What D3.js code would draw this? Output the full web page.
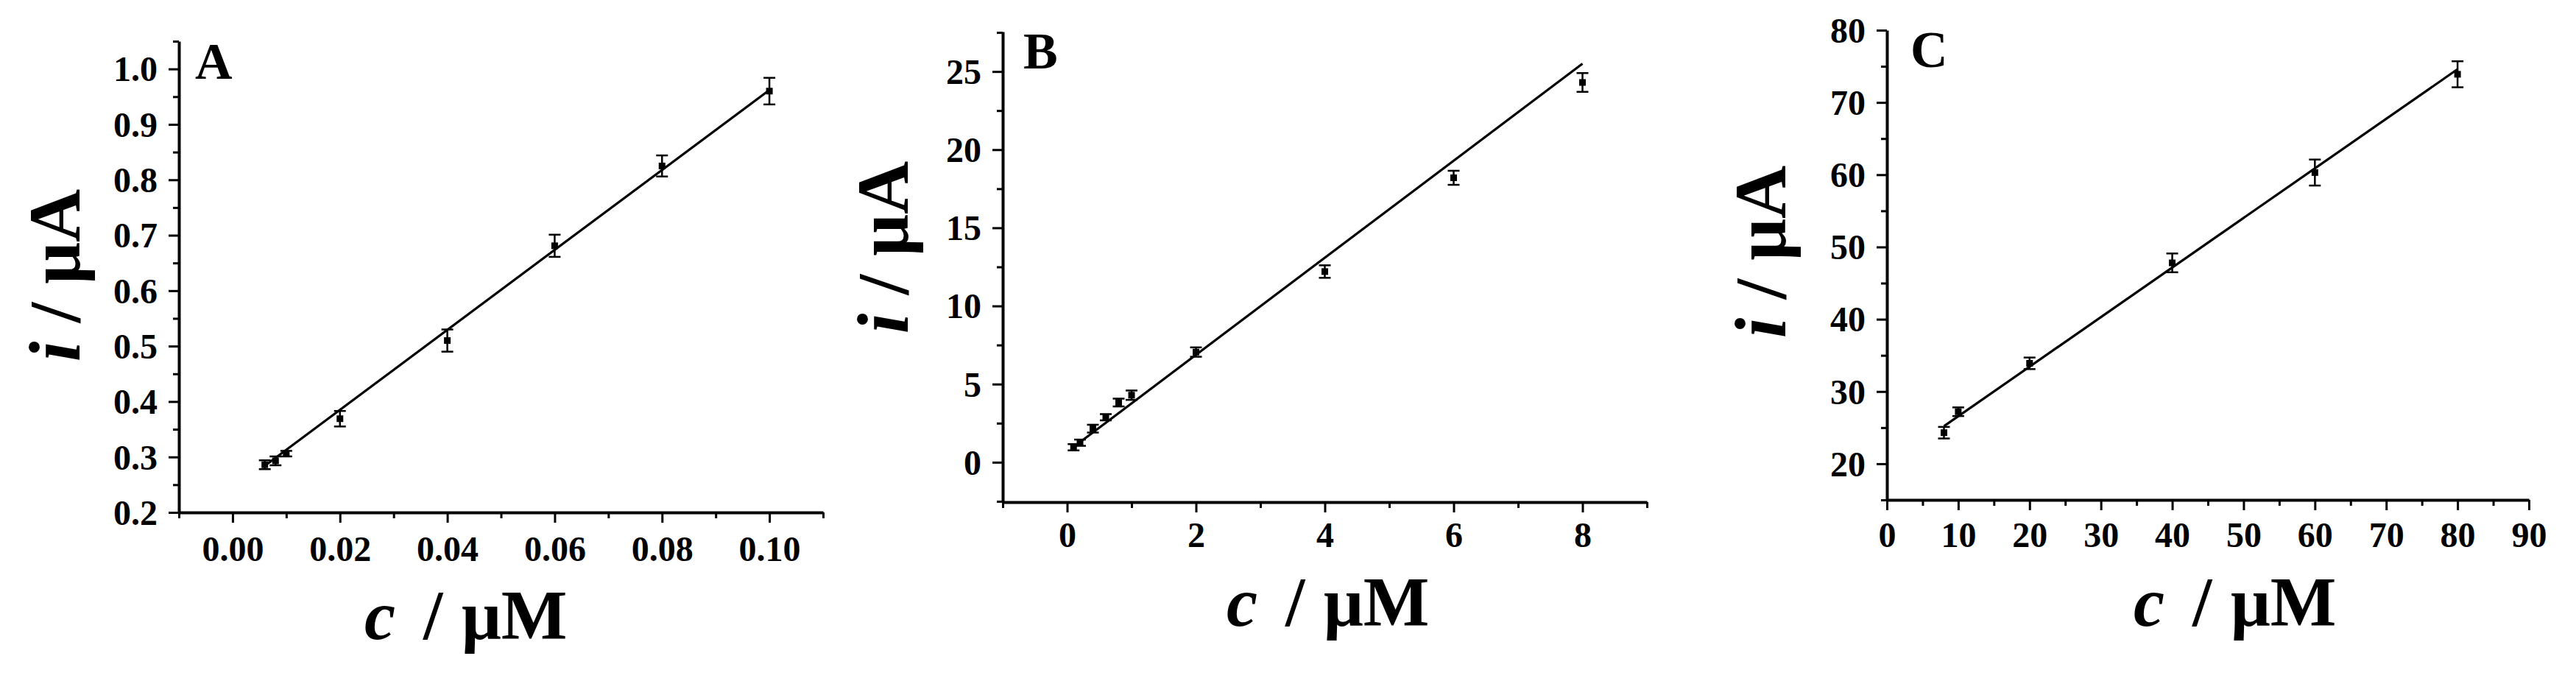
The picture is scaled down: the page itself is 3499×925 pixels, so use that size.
<!DOCTYPE html>
<html>
<head>
<meta charset="utf-8">
<script src="https://cdn.jsdelivr.net/npm/d3@7"></script>
<style>
  body { margin: 0; background: #fff; }
  svg text { font-family: "Liberation Serif", "Times New Roman", serif; font-weight: bold; fill: #000; }
</style>
</head>
<body>
<div id="chart"></div>
<script>
// panel A data (c in uM, i in uA)
const concA = [0.006, 0.008, 0.01, 0.02, 0.04, 0.06, 0.08, 0.10];
const currA = [0.286, 0.293, 0.306, 0.369, 0.51, 0.681, 0.825, 0.96];
const errA = [0.008, 0.008, 0.005, 0.014, 0.02, 0.02, 0.019, 0.024];
const fitA = [[0.006, 0.284], [0.10, 0.962]];

// panel B data
const concB = [0.1, 0.2, 0.4, 0.6, 0.8, 1, 2, 4, 6, 8];
const currB = [0.96, 1.25, 2.15, 2.88, 3.82, 4.29, 7.05, 12.2, 18.2, 24.3];
const errB = [0.2, 0.2, 0.25, 0.2, 0.25, 0.3, 0.3, 0.4, 0.45, 0.6];
const fitB = [[0.06, 0.85], [8.0, 25.5]];

// panel C data
const concC = [8, 10, 20, 40, 60, 80];
const currC = [24.3, 27.2, 33.9, 47.8, 60.3, 73.9];
const errC = [0.8, 0.6, 0.8, 1.3, 1.8, 1.8];
const fitC = [[8, 25.2], [80, 74.6]];

// ticks
const xTicksA = [0, 0.02, 0.04, 0.06, 0.08, 0.10];
const xMinorA = [-0.01, 0.01, 0.03, 0.05, 0.07, 0.09, 0.11];
const yTicksA = [0.2, 0.3, 0.4, 0.5, 0.6, 0.7, 0.8, 0.9, 1.0];
const yMinorA = [0.25, 0.35, 0.45, 0.55, 0.65, 0.75, 0.85, 0.95, 1.05];

const xTicksB = [0, 2, 4, 6, 8];
const xMinorB = [-1, 1, 3, 5, 7, 9];
const yTicksB = [0, 5, 10, 15, 20, 25];
const yMinorB = [-2.5, 2.5, 7.5, 12.5, 17.5, 22.5, 27.5];

const xTicksC = [0, 10, 20, 30, 40, 50, 60, 70, 80, 90];
const xMinorC = [5, 15, 25, 35, 45, 55, 65, 75, 85];
const yTicksC = [20, 30, 40, 50, 60, 70, 80];
const yMinorC = [15, 25, 35, 45, 55, 65, 75];

const svg = d3.select("#chart").append("svg")
  .attr("width", 3499)
  .attr("height", 925);

// one panel = one set of axes; layout numbers live here, not in the data
const panels = [
  { letter: "A", c: concA, i: currA, err: errA, fit: fitA,
    xDom: [-0.01, 0.11], yDom: [0.2, 1.05], left: 243, right: 1118, top: 56, bottom: 696,
    xt: xTicksA, xm: xMinorA, yt: yTicksA, ym: yMinorA, xf: d3.format(".2f"), yf: d3.format(".1f"),
    xLabelX: 495, xLabelY: 868, yLabelX: 108, yLabelY: 374, tickLabelY: 762, letterX: 265, letterY: 107 },
  { letter: "B", c: concB, i: currB, err: errB, fit: fitB,
    xDom: [-1, 9], yDom: [-2.55, 27.55], left: 1362, right: 2237, top: 43, bottom: 682,
    xt: xTicksB, xm: xMinorB, yt: yTicksB, ym: yMinorB, xf: d3.format("d"), yf: d3.format("d"),
    xLabelX: 1666, xLabelY: 850, yLabelX: 1233, yLabelY: 336, tickLabelY: 743, letterX: 1390, letterY: 93 },
  { letter: "C", c: concC, i: currC, err: errC, fit: fitC,
    xDom: [0, 90], yDom: [15, 80], left: 2563, right: 3435, top: 41, bottom: 679,
    xt: xTicksC, xm: xMinorC, yt: yTicksC, ym: yMinorC, xf: d3.format("d"), yf: d3.format("d"),
    xLabelX: 2898, xLabelY: 850, yLabelX: 2425, yLabelY: 342, tickLabelY: 743, letterX: 2595, letterY: 91 }
];

panels.forEach(p => {
  const x = d3.scaleLinear().domain(p.xDom).range([p.left, p.right]);
  const y = d3.scaleLinear().domain(p.yDom).range([p.bottom, p.top]);
  const g = svg.append("g");

  // minor ticks first, then major axis on top
  g.append("g")
    .attr("transform", "translate(0," + p.bottom + ")")
    .call(d3.axisBottom(x).tickValues(p.xm).tickSize(8).tickFormat(""))
    .call(a => a.select(".domain").remove());
  g.append("g")
    .attr("transform", "translate(" + p.left + ",0)")
    .call(d3.axisLeft(y).tickValues(p.ym).tickSize(8).tickFormat(""))
    .call(a => a.select(".domain").remove());

  const xAx = g.append("g")
    .attr("transform", "translate(0," + p.bottom + ")")
    .call(d3.axisBottom(x).tickValues(p.xt).tickSize(14).tickSizeOuter(0).tickFormat(p.xf));
  xAx.selectAll("text")
    .attr("y", p.tickLabelY - p.bottom)
    .attr("dy", null)
    .style("font-size", "48px");

  const yAx = g.append("g")
    .attr("transform", "translate(" + p.left + ",0)")
    .call(d3.axisLeft(y).tickValues(p.yt).tickSize(14).tickSizeOuter(0).tickFormat(p.yf));
  yAx.selectAll("text")
    .attr("x", -29)
    .attr("dy", "0.34em")
    .style("font-size", "48px");

  g.selectAll(".domain").attr("stroke", "#000").attr("stroke-width", 4);
  g.selectAll(".tick line").attr("stroke", "#000").attr("stroke-width", 3);

  // fit line
  g.append("line")
    .attr("x1", x(p.fit[0][0])).attr("y1", y(p.fit[0][1]))
    .attr("x2", x(p.fit[1][0])).attr("y2", y(p.fit[1][1]))
    .attr("stroke", "#000").attr("stroke-width", 3.2);

  const pts = p.c.map((c, k) => ({ c: c, i: p.i[k], e: p.err[k] }));

  // error bars
  const eb = g.selectAll(".eb").data(pts).enter().append("g").attr("class", "eb");
  eb.append("line")
    .attr("x1", d => x(d.c)).attr("x2", d => x(d.c))
    .attr("y1", d => y(d.i - d.e)).attr("y2", d => y(d.i + d.e))
    .attr("stroke", "#000").attr("stroke-width", 2.5);
  [-1, 1].forEach(s => {
    eb.append("line")
      .attr("x1", d => x(d.c) - 8).attr("x2", d => x(d.c) + 8)
      .attr("y1", d => y(d.i + s * d.e)).attr("y2", d => y(d.i + s * d.e))
      .attr("stroke", "#000").attr("stroke-width", 2.5);
  });

  // square markers
  g.selectAll(".pt").data(pts).enter().append("rect")
    .attr("class", "pt")
    .attr("x", d => x(d.c) - 4.5).attr("y", d => y(d.i) - 4.5)
    .attr("width", 9).attr("height", 9)
    .attr("fill", "#000");

  // axis titles
  const xt = g.append("text")
    .attr("x", p.xLabelX).attr("y", p.xLabelY)
    .style("font-size", "95px");
  xt.append("tspan").style("font-style", "italic").text("c");
  xt.append("tspan").attr("x", p.xLabelX + 80).text("/");
  xt.append("tspan").attr("x", p.xLabelX + 132).text("μM");

  const yt = g.append("text")
    .attr("transform", "translate(" + p.yLabelX + "," + p.yLabelY + ") rotate(-90)")
    .attr("text-anchor", "middle")
    .style("font-size", "100px");
  yt.append("tspan").style("font-style", "italic").text("i");
  yt.append("tspan").attr("xml:space", "preserve").text(" / μA");

  // panel letter
  g.append("text")
    .attr("x", p.letterX).attr("y", p.letterY)
    .style("font-size", "70px")
    .text(p.letter);
});
</script>
</body>
</html>
